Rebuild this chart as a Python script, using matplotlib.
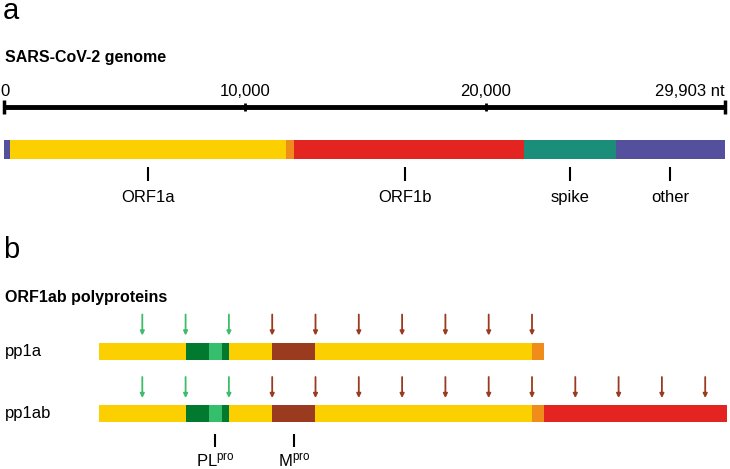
import numpy as np
import matplotlib
matplotlib.use('Agg')
import matplotlib.pyplot as plt

plt.rcParams['font.family'] = ['Liberation Sans', 'DejaVu Sans']
plt.rcParams['mathtext.default'] = 'regular'

# panel a: genome (nt)
genome_len = 29903
genome_starts = [0, 266, 11700, 12033, 21563, 25384]
genome_ends = [266, 11700, 12033, 21563, 25384, 29903]
genome_colors = ['#55509D', '#FBCF00', '#F08C1A', '#E32420', '#1A8E78', '#55509D']
genome_labels = ['ORF1a', 'ORF1b', 'spike', 'other']
genome_label_seg = [1, 3, 4, 5]   # which segment each label sits under
scale_ticks = [0, 10000, 20000, 29903]
scale_ticklabels = ['0', '10,000', '20,000', '29,903 nt']

# panel b: polyproteins, schematic units (one unit per nsp)
pp_starts = [0, 2, 2.54, 2.84, 3, 4, 5, 10, 10.28]
pp_ends = [2, 2.54, 2.84, 3, 4, 5, 10, 10.28, 14.5]
pp_colors = ['#FBCF00', '#01792F', '#35BE6B', '#01792F', '#FBCF00',
             '#9A3A1E', '#FBCF00', '#F08C1A', '#E32420']
pp1a_nseg = 8  # pp1a stops before the red part
sites_pp1a = [1, 2, 3, 4, 5, 6, 7, 8, 9, 10]
sites_pp1ab = sites_pp1a + [11, 12, 13, 14]
plpro_sites = [1, 2, 3]
protease_labels = ['PL$^{pro}$', 'M$^{pro}$']
protease_pos = [2.69, 4.5]

W, H = 730, 469
fig = plt.figure(figsize=(W / 100, H / 100), dpi=100)

# both axes cover the whole figure, y in pixels from top
ax_a = fig.add_axes([0, 0, 1, 1])
ax_a.set_xlim(-4 * 10000 / 241, (W - 4) * 10000 / 241)
ax_a.set_ylim(H, 0)
ax_a.axis('off')

ax_b = fig.add_axes([0, 0, 1, 1])
ax_b.set_xlim(-99 / 43.3, (W - 99) / 43.3)
ax_b.set_ylim(H, 0)
ax_b.axis('off')
ax_b.patch.set_alpha(0)

def ftext(x, y, s, **kw):
    fig.text(x / W, 1 - y / H, s, **kw)

# ---- panel a ----
ftext(3, 19, 'a', fontsize=21, va='baseline')
ftext(5, 62, 'SARS-CoV-2 genome', fontsize=11.5, fontweight='bold', va='baseline')

ax_a.plot([0, genome_len], [107, 107], color='black', lw=3.5, solid_capstyle='butt')
for t, lab in zip(scale_ticks, scale_ticklabels):
    end = t in (0, genome_len)
    ax_a.vlines(t, 100 if end else 103, 114 if end else 111, color='black', lw=2.5 if end else 2)
    ha = 'right' if t == genome_len else 'center'
    ax_a.text(t + (60 if t == 0 else 0), 96, lab, fontsize=12, ha=ha, va='baseline')

for s, e, c in zip(genome_starts, genome_ends, genome_colors):
    ax_a.barh(149.5, e - s, left=s, height=19, color=c, lw=0)

for lab, i in zip(genome_labels, genome_label_seg):
    mid = (genome_starts[i] + genome_ends[i]) / 2
    if lab == 'ORF1b':
        mid = (genome_starts[2] + genome_ends[3]) / 2
    ax_a.vlines(mid, 167, 181, color='black', lw=1.5)
    ax_a.text(mid, 202, lab, fontsize=12, ha='center', va='baseline')

# ---- panel b ----
ftext(3, 258, 'b', fontsize=21, va='baseline')
ftext(5, 302, 'ORF1ab polyproteins', fontsize=11.5, fontweight='bold', va='baseline')

rows = [('pp1a', 351.5, pp1a_nseg, sites_pp1a, 356),
        ('pp1ab', 414, len(pp_starts), sites_pp1ab, 418)]
for name, yc, nseg, sites, ybase in rows:
    ftext(5, ybase, name, fontsize=12, va='baseline')
    for s, e, c in zip(pp_starts[:nseg], pp_ends[:nseg], pp_colors[:nseg]):
        ax_b.barh(yc, e - s, left=s, height=17, color=c, lw=0)
    for u in sites:
        col = '#3DBD6B' if u in plpro_sites else '#9A3A1E'
        ax_b.annotate('', xy=(u, yc - 16), xytext=(u, yc - 37),
                      arrowprops=dict(arrowstyle='-|>', color=col, lw=1.3,
                                      mutation_scale=6, shrinkA=0, shrinkB=0))

for lab, u in zip(protease_labels, protease_pos):
    ax_b.vlines(u, 434, 447, color='black', lw=1.5)
    ax_b.text(u, 467, lab, fontsize=12, ha='center', va='baseline')

fig.savefig('out.png', dpi=100)
